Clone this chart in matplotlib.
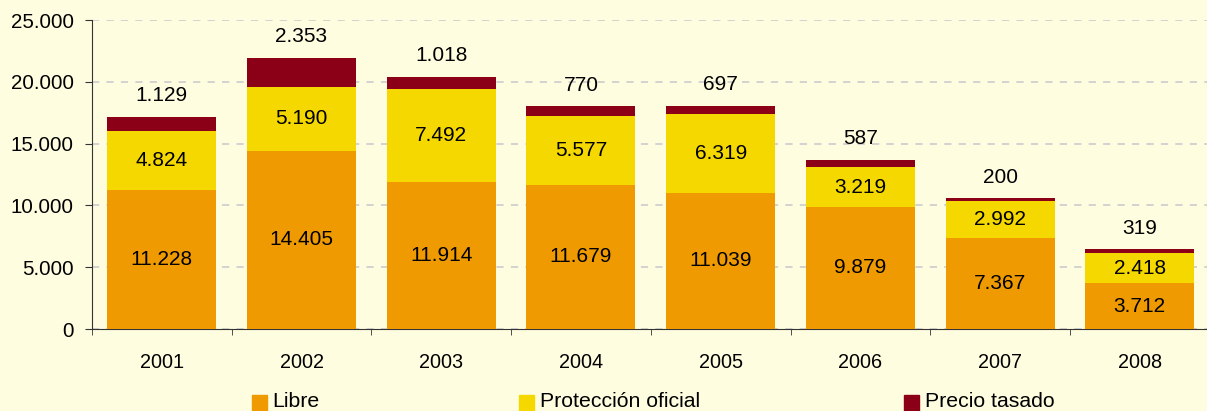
import matplotlib
matplotlib.use("Agg")
import matplotlib.pyplot as plt
from matplotlib.patches import Rectangle
import numpy as np

years = ["2001", "2002", "2003", "2004", "2005", "2006", "2007", "2008"]
libre = [11228, 14405, 11914, 11679, 11039, 9879, 7367, 3712]
proteccion = [4824, 5190, 7492, 5577, 6319, 3219, 2992, 2418]
precio = [1129, 2353, 1018, 770, 697, 587, 200, 319]
series_names = ["Libre", "Protección oficial", "Precio tasado"]
colors = ["#EE9A00", "#F5D800", "#8B0016"]
bg = "#FFFDE0"

def fmt(v):
    return f"{v:,}".replace(",", ".")

plt.rcParams['font.family'] = ['Liberation Sans', 'DejaVu Sans']

W, H = 1207, 411
fig = plt.figure(figsize=(W / 100, H / 100), dpi=100, facecolor=bg)
left, right, top, bottom = 92, 92 + 8 * 139.7, 20, 329
ax = fig.add_axes([left / W, 1 - bottom / H, (right - left) / W, (bottom - top) / H])
ax.set_facecolor(bg)

x = np.arange(len(years))
wbar = 0.78
libre_a = np.array(libre)
prot_a = np.array(proteccion)
prec_a = np.array(precio)
ax.bar(x, libre_a, wbar, color=colors[0], zorder=3)
ax.bar(x, prot_a, wbar, bottom=libre_a, color=colors[1], zorder=3)
ax.bar(x, prec_a, wbar, bottom=libre_a + prot_a, color=colors[2], zorder=3)

fs = 15
for i in range(len(years)):
    ax.text(x[i], libre_a[i] / 2, fmt(libre[i]), ha='center', va='center', fontsize=fs, zorder=4)
    ax.text(x[i], libre_a[i] + prot_a[i] / 2, fmt(proteccion[i]), ha='center', va='center', fontsize=fs, zorder=4)
    tot = libre_a[i] + prot_a[i] + prec_a[i]
    ax.annotate(fmt(precio[i]), (x[i], tot), xytext=(0, 21), textcoords='offset pixels',
                ha='center', va='center', fontsize=fs, zorder=4)

ax.set_xlim(-0.5, 7.5)
ax.set_ylim(0, 25000)
ax.set_yticks(np.arange(0, 25001, 5000))
ax.set_yticklabels([fmt(v) for v in range(0, 25001, 5000)], fontsize=14.8)
ax.yaxis.grid(True, linestyle=(0, (4, 4)), color='#CFCFCF', linewidth=1.3, zorder=0)
ax.set_axisbelow(True)

ax.set_xticks(x)
ax.set_xticklabels(years, fontsize=14.3)
ax.tick_params(axis='x', which='major', length=0, pad=17)
ax.set_xticks(np.arange(-0.5, 8.0, 1.0), minor=True)
ax.tick_params(axis='x', which='minor', length=4, direction='out', color='#333333')
ax.tick_params(axis='y', length=5, direction='out', color='#333333', pad=8)

for s in ['top', 'right']:
    ax.spines[s].set_visible(False)
ax.spines['left'].set_color('#333333')
ax.spines['bottom'].set_color('#333333')

# legend
legx = [(252, 272), (519, 540), (904, 925)]
for (sx, tx), name, c in zip(legx, series_names, colors):
    fig.patches.append(Rectangle((sx / W, 1 - 412 / H), 15 / W, 17 / H,
                                 transform=fig.transFigure, color=c, figure=fig))
    fig.text(tx / W, 1 - 407 / H, name, ha='left', va='baseline', fontsize=15.3)

fig.savefig("out.png", dpi=100, facecolor=bg)
